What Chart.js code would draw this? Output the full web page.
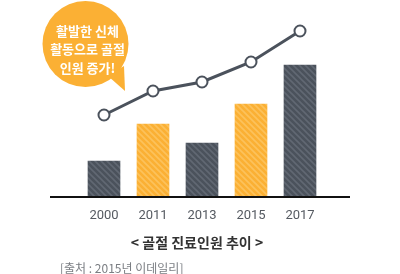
<!DOCTYPE html>
<html>
<head>
<meta charset="utf-8">
<script src="https://cdn.jsdelivr.net/npm/chart.js@4"></script>
<style>
  html, body { margin: 0; padding: 0; background: #fff; }
  #wrap { width: 400px; height: 274px; }
</style>
</head>
<body>
<div id="wrap"><canvas id="chart" width="400" height="274"></canvas></div>
<script>
// data (arbitrary units)
const years = ['2000', '2011', '2013', '2015', '2017'];
const barValues = [35, 72, 53, 92, 131];
const lineValues = [81, 105, 114, 134, 165];
const barKinds = ['dark', 'orange', 'dark', 'orange', 'dark'];

const bubbleLines = ['활발한 신체', '활동으로 골절', '인원 증가!'];
const chartTitle = '< 골절 진료인원 추이 >';
const sourceText = '[출처 : 2015년 이데일리]';

const DARK = '#4b525c';
const ORANGE = '#fbb034';

// diagonal striped fill like the original
function makePattern(base, stripe) {
    const c = document.createElement('canvas');
    c.width = 6;
    c.height = 6;
    const g = c.getContext('2d');
    g.fillStyle = base;
    g.fillRect(0, 0, 6, 6);
    g.strokeStyle = stripe;
    g.lineWidth = 1.6;
    g.beginPath();
    g.moveTo(-1, -1); g.lineTo(7, 7);
    g.moveTo(-4, 2); g.lineTo(2, 8);
    g.moveTo(2, -4); g.lineTo(8, 2);
    g.stroke();
    const ctx = document.getElementById('chart').getContext('2d');
    return ctx.createPattern(c, 'repeat');
}

const darkPattern = makePattern(DARK, '#616873');
const orangePattern = makePattern(ORANGE, '#fcc25c');
const barFills = barKinds.map(k => k === 'dark' ? darkPattern : orangePattern);

// baseline, speech bubble and captions
const decorPlugin = {
    id: 'decor',
    afterDatasetsDraw(chart) {
        const ctx = chart.ctx;
        const area = chart.chartArea;
        ctx.save();

        // axis line wider than the plot area
        ctx.strokeStyle = '#111';
        ctx.lineWidth = 2;
        ctx.beginPath();
        ctx.moveTo(50, area.bottom + 1);
        ctx.lineTo(350, area.bottom + 1);
        ctx.stroke();

        // speech bubble
        const cx = 85.5, cy = 44, r = 43;
        ctx.fillStyle = ORANGE;
        ctx.beginPath();
        ctx.arc(cx, cy, r, 0, Math.PI * 2);
        ctx.fill();
        ctx.beginPath();
        ctx.moveTo(108, 76);
        ctx.lineTo(125, 91);
        ctx.lineTo(124, 66);
        ctx.closePath();
        ctx.fill();

        ctx.fillStyle = '#fff';
        ctx.font = 'bold 13px "Noto Sans CJK KR", sans-serif';
        ctx.textAlign = 'center';
        ctx.textBaseline = 'middle';
        bubbleLines.forEach((t, i) => ctx.fillText(t, 87.5, 31 + i * 18.5));

        // title and source
        ctx.fillStyle = '#333';
        ctx.font = 'bold 14px "Noto Sans CJK KR", sans-serif';
        ctx.fillText(chartTitle, 197, 243);

        ctx.fillStyle = '#7a7d82';
        ctx.font = '12px "Noto Sans CJK KR", sans-serif';
        ctx.textAlign = 'left';
        ctx.fillText(sourceText, 60, 268);

        ctx.restore();
    }
};

new Chart(document.getElementById('chart'), {
    data: {
        labels: years,
        datasets: [
            {
                type: 'line',
                data: lineValues,
                borderColor: '#4b525c',
                borderWidth: 3,
                pointRadius: 5.5,
                pointBorderWidth: 2,
                pointBackgroundColor: '#fff',
                pointBorderColor: '#4b525c',
                tension: 0,
                order: 0
            },
            {
                type: 'bar',
                data: barValues,
                backgroundColor: barFills,
                borderWidth: 0,
                barThickness: 32,
                order: 1
            }
        ]
    },
    options: {
        responsive: false,
        animation: false,
        layout: {
            padding: { left: 79.5, right: 75.5, top: 16, bottom: 0 }
        },
        plugins: {
            legend: { display: false },
            tooltip: { enabled: false }
        },
        scales: {
            x: {
                grid: { display: false, drawTicks: false },
                border: { display: false },
                ticks: {
                    color: '#555a61',
                    padding: 12,
                    font: { family: 'Roboto, sans-serif', size: 13 }
                },
                afterFit(scale) { scale.height = 78; }
            },
            y: {
                display: false,
                min: 0,
                max: 180
            }
        }
    },
    plugins: [decorPlugin]
});
</script>
</body>
</html>
